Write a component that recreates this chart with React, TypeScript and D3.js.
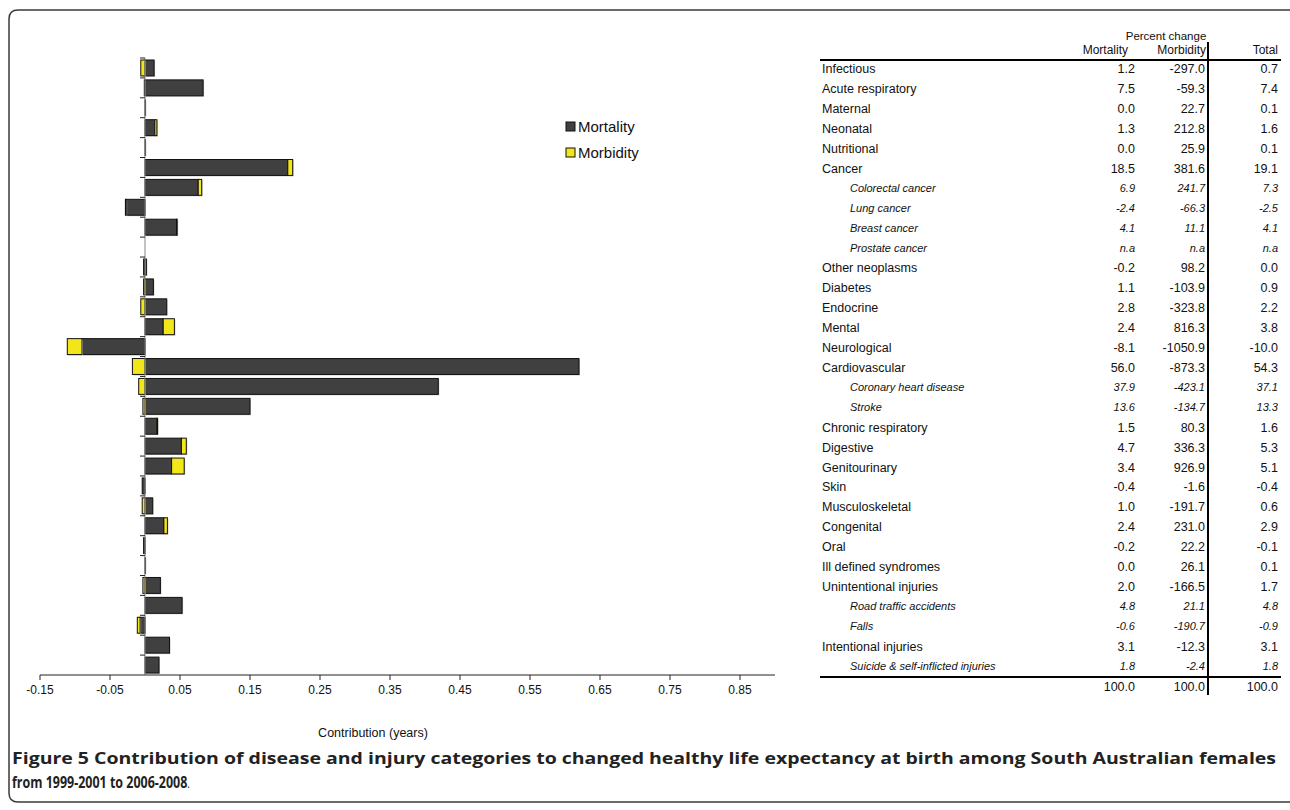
import React from 'react';
import * as d3 from 'd3';

// disease / injury categories (table rows and bar rows share this order)
const categories = [
  'Infectious', 'Acute respiratory', 'Maternal', 'Neonatal', 'Nutritional', 'Cancer',
  'Colorectal cancer', 'Lung cancer', 'Breast cancer', 'Prostate cancer', 'Other neoplasms',
  'Diabetes', 'Endocrine', 'Mental', 'Neurological', 'Cardiovascular', 'Coronary heart disease',
  'Stroke', 'Chronic respiratory', 'Digestive', 'Genitourinary', 'Skin', 'Musculoskeletal',
  'Congenital', 'Oral', 'Ill defined syndromes', 'Unintentional injuries', 'Road traffic accidents',
  'Falls', 'Intentional injuries', 'Suicide & self-inflicted injuries',
];
const subRows = [
  'Colorectal cancer', 'Lung cancer', 'Breast cancer', 'Prostate cancer',
  'Coronary heart disease', 'Stroke', 'Road traffic accidents', 'Falls',
  'Suicide & self-inflicted injuries',
];

// contribution (years)
const mortality = [
  0.013, 0.083, 0.0, 0.014, 0.0, 0.204, 0.076, -0.027, 0.045, 0, -0.002,
  0.012, 0.031, 0.026, -0.09, 0.62, 0.419, 0.15, 0.017, 0.052, 0.038, -0.004,
  0.011, 0.027, -0.002, 0.0, 0.022, 0.053, -0.007, 0.035, 0.02,
];
const morbidity = [
  -0.006, -0.001, 0.0005, 0.003, 0.0005, 0.007, 0.005, -0.001, 0.001, 0, 0.002,
  -0.002, -0.006, 0.016, -0.021, -0.018, -0.009, -0.003, 0.001, 0.007, 0.018, 0,
  -0.004, 0.005, 0, 0.0005, -0.003, 0, -0.004, 0, 0,
];

// percent change table
const pctMortality = [
  '1.2', '7.5', '0.0', '1.3', '0.0', '18.5', '6.9', '-2.4', '4.1', 'n.a', '-0.2',
  '1.1', '2.8', '2.4', '-8.1', '56.0', '37.9', '13.6', '1.5', '4.7', '3.4', '-0.4',
  '1.0', '2.4', '-0.2', '0.0', '2.0', '4.8', '-0.6', '3.1', '1.8',
];
const pctMorbidity = [
  '-297.0', '-59.3', '22.7', '212.8', '25.9', '381.6', '241.7', '-66.3', '11.1', 'n.a', '98.2',
  '-103.9', '-323.8', '816.3', '-1050.9', '-873.3', '-423.1', '-134.7', '80.3', '336.3', '926.9', '-1.6',
  '-191.7', '231.0', '22.2', '26.1', '-166.5', '21.1', '-190.7', '-12.3', '-2.4',
];
const pctTotal = [
  '0.7', '7.4', '0.1', '1.6', '0.1', '19.1', '7.3', '-2.5', '4.1', 'n.a', '0.0',
  '0.9', '2.2', '3.8', '-10.0', '54.3', '37.1', '13.3', '1.6', '5.3', '5.1', '-0.4',
  '0.6', '2.9', '-0.1', '0.1', '1.7', '4.8', '-0.9', '3.1', '1.8',
];
const columnTotals = ['100.0', '100.0', '100.0'];

const xTicks = [-0.15, -0.05, 0.05, 0.15, 0.25, 0.35, 0.45, 0.55, 0.65, 0.75, 0.85];
const seriesKeys = ['Mortality', 'Morbidity'];
const colors = ['#404040', '#f2e61a'];

const FONT = '"Liberation Sans", Arial, sans-serif';

const App = () => {
  const rows = categories.map((c, i) => ({
    name: c,
    Mortality: mortality[i],
    Morbidity: morbidity[i],
  }));

  const x = d3.scaleLinear().domain([-0.15, 0.9]).range([40, 775]);
  const y = d3.scaleBand<string>().domain(categories).range([58, 675]).paddingInner(0.2).paddingOuter(0.1);
  const band = d3.scaleBand<string>().domain(categories).range([58, 675]);

  const stacked = d3
    .stack<any>()
    .keys(seriesKeys)
    .offset(d3.stackOffsetDiverging)(rows);

  const tableRowY = d3.scaleBand<string>().domain(categories).range([59, 676]);
  const colMort = 1135;
  const colMorb = 1205;
  const colTot = 1278;

  return (
    <svg
      width={1290}
      height={810}
      style={{ position: 'absolute', left: 0, top: 0, background: '#fff' }}
      fontFamily={FONT}
    >
      {/* frame */}
      <path
        d="M1292,10 L18,10 Q9,10 9,19 L9,793 Q9,802 18,802 L1292,802"
        fill="none"
        stroke="#3a3a3a"
        strokeWidth={1.5}
      />

      {/* bars */}
      {stacked.map((s, si) => (
        <g key={s.key}>
          {s.map((d, i) => {
            const v = si === 0 ? mortality[i] : morbidity[i];
            if (v === 0) return null;
            const x0 = x(Math.min(d[0], d[1]));
            const x1 = x(Math.max(d[0], d[1]));
            return (
              <g key={i}>
                <rect
                  x={x0 + 1}
                  y={y(categories[i])! + 1}
                  width={Math.max(x1 - x0, 0.3)}
                  height={y.bandwidth()}
                  fill="#c8c8c8"
                />
                <rect
                  x={x0}
                  y={y(categories[i])}
                  width={Math.max(x1 - x0, 0.3)}
                  height={y.bandwidth()}
                  fill={colors[si]}
                  stroke="#111"
                  strokeWidth={1}
                />
              </g>
            );
          })}
        </g>
      ))}

      {/* y axis at zero */}
      <line x1={x(0)} x2={x(0)} y1={58} y2={675} stroke="#888" strokeWidth={1} />
      {categories.map((c) => (
        <line key={c} x1={x(0) - 5} x2={x(0)} y1={band(c)} y2={band(c)} stroke="#222" strokeWidth={1} />
      ))}

      {/* x axis */}
      <line x1={x(-0.15)} x2={x(0.9)} y1={675} y2={675} stroke="#222" strokeWidth={1} />
      {xTicks.map((t) => (
        <g key={t}>
          <line x1={x(t)} x2={x(t)} y1={675} y2={680} stroke="#222" />
          <text x={x(t)} y={694} textAnchor="middle" fontSize={12} fill="#111">
            {t.toFixed(2)}
          </text>
        </g>
      ))}
      <text x={373} y={737} textAnchor="middle" fontSize={12.5} fill="#111">
        Contribution (years)
      </text>

      {/* legend */}
      {seriesKeys.map((k, i) => (
        <g key={k} transform={`translate(566, ${122 + i * 26})`}>
          <rect x={0} y={0} width={9} height={9} fill={colors[i]} stroke="#111" />
          <text x={12} y={10} fontSize={15} fill="#111">
            {k}
          </text>
        </g>
      ))}

      {/* table */}
      <text x={1166} y={40} textAnchor="middle" fontSize={11.5} fill="#111">
        Percent change
      </text>
      <text x={1128} y={54} textAnchor="end" fontSize={12} fill="#111">Mortality</text>
      <text x={1206} y={54} textAnchor="end" fontSize={12} fill="#111">Morbidity</text>
      <text x={1278} y={54} textAnchor="end" fontSize={12} fill="#111">Total</text>
      <line x1={820} x2={1281} y1={60} y2={60} stroke="#000" strokeWidth={2} />
      <line x1={820} x2={1281} y1={677} y2={677} stroke="#000" strokeWidth={2} />
      <line x1={1208} x2={1208} y1={42} y2={695} stroke="#000" strokeWidth={2} />

      {categories.map((c, i) => {
        const sub = subRows.includes(c);
        const cy = tableRowY(c)! + tableRowY.bandwidth() / 2 + (sub ? 4 : 4.5);
        const fs = sub ? 11 : 12.5;
        const style = sub ? 'italic' : 'normal';
        return (
          <g key={c} fontSize={fs} fontStyle={style} fill="#111">
            <text x={sub ? 850 : 822} y={cy}>{c}</text>
            <text x={colMort} y={cy} textAnchor="end">{pctMortality[i]}</text>
            <text x={colMorb} y={cy} textAnchor="end">{pctMorbidity[i]}</text>
            <text x={colTot} y={cy} textAnchor="end">{pctTotal[i]}</text>
          </g>
        );
      })}
      {[colMort, colMorb, colTot].map((cx, i) => (
        <text key={cx} x={cx} y={691} textAnchor="end" fontSize={12.5} fill="#111">
          {columnTotals[i]}
        </text>
      ))}

      {/* caption */}
      <text
        x={12}
        y={764}
        fontFamily='"Open Sans", sans-serif'
        fontWeight={700}
        fontSize={16}
        fill="#222"
        textLength={1264}
        lengthAdjust="spacingAndGlyphs"
      >
        Figure 5 Contribution of disease and injury categories to changed healthy life expectancy at birth among South Australian females
      </text>
      <g transform="translate(12, 788) scale(0.78, 1)">
        <text x={0} y={0} fontFamily='"Open Sans", sans-serif' fontSize={16} fill="#222">
          <tspan fontWeight={700}>from 1999-2001 to 2006-2008</tspan>
          <tspan fontSize={12}>.</tspan>
        </text>
      </g>
    </svg>
  );
};

export default App;
